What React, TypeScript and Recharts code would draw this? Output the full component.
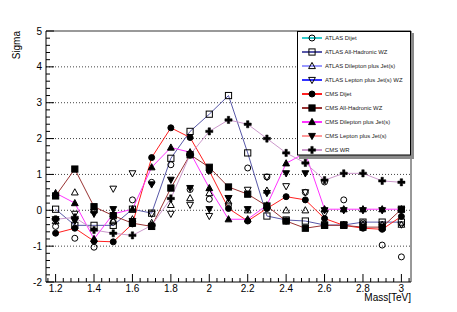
import React from 'react';
import { LineChart, Line, XAxis, YAxis, ReferenceLine, Legend, Label } from 'recharts';

// resonance masses in TeV
const masses = [1.2, 1.3, 1.4, 1.5, 1.6, 1.7, 1.8, 1.9, 2.0, 2.1, 2.2, 2.3, 2.4, 2.5, 2.6, 2.7, 2.8, 2.9, 3.0];

// local significance per analysis
const atlasDijet = [-0.45, -0.78, -1.03, -0.33, 0.29, 0.78, 1.27, 0.58, 0.31, 0.15, 1.18, 0.93, -0.3, 0.5, 0.79, 0.29, -0.35, -0.97, -1.3];
const atlasAllHad = [0.03, -0.42, -0.42, -0.42, 0.03, -0.08, 1.45, 2.2, 2.68, 3.2, 1.6, -0.16, -0.27, -0.3, -0.41, -0.41, -0.33, -0.33, -0.33];
const atlasDilepton = [-0.3, 0.5, 0.0, -0.3, -0.25, -0.35, 0.15, 0.34, 0.48, 0.25, 0.0, 0.55, 0.0, 0.0, -0.35, -0.4, -0.4, -0.4, -0.4];
const atlasLepton = [-0.3, -0.1, -0.05, 0.6, 1.03, -0.1, -0.1, 0.15, -0.16, 0.34, 0.57, 0.93, 0.67, 0.5, -0.1, -0.4, -0.4, -0.4, -0.4];
const cmsDijet = [-0.64, -0.5, -0.86, -0.88, -0.38, 1.47, 2.3, 2.03, 1.1, 0.05, -0.3, 0.05, 0.38, 0.29, -0.23, -0.42, -0.5, -0.53, -0.17];
const cmsAllHad = [0.4, 1.15, 0.1, -0.15, -0.36, -0.45, 0.62, 1.55, 1.2, 0.65, 0.45, 0.12, -0.3, -0.5, -0.42, -0.42, -0.47, -0.47, 0.03];
const cmsDilepton = [0.48, 0.2, -0.8, -0.1, 0.03, 1.2, 1.75, 1.62, 0.62, -0.25, -0.25, 0.14, 1.31, 1.6, 0.03, 0.03, 0.03, 0.03, 0.03];
const cmsLepton = [-0.25, -0.3, -0.1, 0.03, -0.3, 0.72, 0.85, 0.62, 0.03, 0.34, 0.03, 0.48, 1.03, 1.03, 0.0, 0.0, 0.0, 0.0, 0.0];
const cmsWR = [-0.25, -0.2, -0.55, -0.64, -0.7, -0.42, 0.33, 1.55, 2.2, 2.52, 2.4, 2.0, 1.6, 1.32, 0.84, 1.03, 1.03, 0.82, 0.78];

const seriesNames = [
  'ATLAS Dijet',
  'ATLAS All-Hadronic WZ',
  'ATLAS Dilepton plus Jet(s)',
  'ATLAS Lepton plus Jet(s) WZ',
  'CMS Dijet',
  'CMS All-Hadronic WZ',
  'CMS Dilepton plus Jet(s)',
  'CMS Lepton plus Jet(s)',
  'CMS WR',
];
const seriesValues = [atlasDijet, atlasAllHad, atlasDilepton, atlasLepton, cmsDijet, cmsAllHad, cmsDilepton, cmsLepton, cmsWR];
const seriesColors = ['#33cccc', '#5858a8', '#9999ff', '#3333ff', '#ff2020', '#993333', '#ff33ff', '#ff9999', '#cc99cc'];
const seriesMarkers = ['circle', 'square', 'triUp', 'triDown', 'circle', 'square', 'triUp', 'triDown', 'cross'];
const seriesFilled = [false, false, false, false, true, true, true, true, true];
const seriesLined = [false, true, false, false, true, true, true, false, true];

const gridY = [-1, 0, 1, 2, 3, 4];

const W = 457;
const H = 312;
const LEFT = 46;
const TOP = 31;
const RIGHT = 411;
const BOTTOM = 282;
const FONT = '"Liberation Sans", Arial, sans-serif';

// minor ticks every 0.04 on x, 0.2 on y
const xTicks: number[] = [];
for (let k = 0; k <= 47; k++) xTicks.push(Math.round((1.16 + 0.04 * k) * 100) / 100);
const yTicks: number[] = [];
for (let k = 0; k <= 35; k++) yTicks.push(Math.round((-2 + 0.2 * k) * 10) / 10);

const rows = masses.map((m, i) => {
  const r: Record<string, number> = { mass: m };
  seriesValues.forEach((vals, s) => (r['s' + s] = vals[i]));
  return r;
});

const Marker = ({ shape, filled, cx, cy }: { shape: string; filled: boolean; cx: number; cy: number }) => {
  const fill = filled ? '#000' : 'none';
  const common = { fill, stroke: '#000', strokeWidth: 1 };
  if (shape === 'circle') return <circle cx={cx} cy={cy} r={3} {...common} />;
  if (shape === 'square') return <rect x={cx - 3.1} y={cy - 3.1} width={6.2} height={6.2} {...common} />;
  if (shape === 'triUp')
    return <polygon points={`${cx},${cy - 3.6} ${cx + 3.4},${cy + 2.6} ${cx - 3.4},${cy + 2.6}`} {...common} />;
  if (shape === 'triDown')
    return <polygon points={`${cx},${cy + 3.6} ${cx + 3.4},${cy - 2.6} ${cx - 3.4},${cy - 2.6}`} {...common} />;
  const a = 1.2;
  const L = 3.6;
  const pts = [
    [-a, -L], [a, -L], [a, -a], [L, -a], [L, a], [a, a],
    [a, L], [-a, L], [-a, a], [-L, a], [-L, -a], [-a, -a],
  ].map(([x, y]) => `${cx + x},${cy + y}`).join(' ');
  return <polygon points={pts} fill="#000" stroke="#000" strokeWidth={0.5} />;
};

const isMajor = (v: number, step: number) => Math.abs(v / step - Math.round(v / step)) < 1e-6;

const XTick = (props: any) => {
  const { x, payload } = props;
  const v = payload.value;
  const major = isMajor(v, 0.2);
  return (
    <g>
      <line x1={x} x2={x} y1={BOTTOM} y2={BOTTOM - (major ? 8 : 4)} stroke="#000" />
      {major && (
        <text x={x} y={BOTTOM + 9.5} textAnchor="middle" fontSize={10} fontFamily={FONT} fill="#000">
          {String(Number(v.toFixed(1)))}
        </text>
      )}
    </g>
  );
};

const YTick = (props: any) => {
  const { y, payload } = props;
  const v = payload.value;
  const major = isMajor(v, 1);
  return (
    <g>
      <line x1={LEFT} x2={LEFT + (major ? 8 : 4)} y1={y} y2={y} stroke="#000" />
      {major && (
        <text x={LEFT - 4} y={y + 3.6} textAnchor="end" fontSize={10} fontFamily={FONT} fill="#000">
          {String(Math.round(v))}
        </text>
      )}
    </g>
  );
};

const renderLegend = () => (
  <svg width={118} height={130} style={{ display: 'block' }}>
    <rect x={2} y={2} width={115} height={126} fill="#8a8a8a" />
    <rect x={0.5} y={0.5} width={113} height={123.5} fill="#fff" stroke="#000" />
    {seriesNames.map((n, i) => {
      const cy = 7 + i * 14;
      return (
        <g key={n}>
          <line x1={5} x2={25} y1={cy} y2={cy} stroke={seriesColors[i]} strokeWidth={2} />
          <Marker shape={seriesMarkers[i]} filled={seriesFilled[i]} cx={15} cy={cy} />
          <text x={28} y={cy + 2.2} fontSize={5.9} fontFamily={FONT} fill="#222">
            {n}
          </text>
        </g>
      );
    })}
  </svg>
);

export default function App() {
  return (
    <div style={{ position: 'absolute', left: 0, top: 0, width: W, height: H, background: '#fff', fontFamily: FONT }}>
      <LineChart
        width={W}
        height={H}
        data={rows}
        margin={{ top: TOP, left: LEFT - 1, right: W - RIGHT, bottom: H - BOTTOM - 1 }}
      >
        <XAxis
          dataKey="mass"
          type="number"
          domain={[1.15, 3.05]}
          ticks={xTicks}
          interval={0}
          tick={XTick}
          tickLine={false}
          height={1}
          allowDataOverflow
          axisLine={false}
        >
          <Label
            content={() => (
              <text x={RIGHT} y={BOTTOM + 19} textAnchor="end" fontSize={10} fontFamily={FONT} fill="#000">
                Mass[TeV]
              </text>
            )}
          />
        </XAxis>
        <YAxis
          type="number"
          domain={[-2, 5]}
          ticks={yTicks}
          interval={0}
          tick={YTick}
          tickLine={false}
          width={1}
          allowDataOverflow
          axisLine={false}
        >
          <Label
            content={() => (
              <text
                x={20}
                y={TOP}
                transform={`rotate(-90 20 ${TOP})`}
                textAnchor="end"
                fontSize={10}
                fontFamily={FONT}
                fill="#000"
              >
                Sigma
              </text>
            )}
          />
        </YAxis>
        {gridY.map((g) => (
          <ReferenceLine key={g} y={g} stroke="#444" strokeDasharray="1 2" strokeWidth={1} />
        ))}
        <ReferenceLine y={5} stroke="#777" strokeWidth={1.5} />
        <ReferenceLine x={3.05} stroke="#333" strokeWidth={1} />
        <ReferenceLine y={-2} stroke="#000" strokeWidth={1} />
        <ReferenceLine x={1.15} stroke="#000" strokeWidth={1} />
        {seriesNames.map((n, i) => (
          <Line
            key={n}
            name={n}
            type="linear"
            dataKey={'s' + i}
            stroke={seriesLined[i] ? seriesColors[i] : 'none'}
            strokeWidth={1}
            isAnimationActive={false}
            activeDot={false}
            dot={(p: any) => (
              <Marker
                key={`${i}-${p.index}`}
                shape={seriesMarkers[i]}
                filled={seriesFilled[i]}
                cx={p.cx}
                cy={p.cy}
              />
            )}
          />
        ))}
        <Legend
          layout="vertical"
          align="center"
          verticalAlign="middle"
          content={renderLegend}
          wrapperStyle={{ position: 'absolute', left: 297, top: TOP, width: 118, height: 130, margin: 0, padding: 0 }}
        />
      </LineChart>
    </div>
  );
}
